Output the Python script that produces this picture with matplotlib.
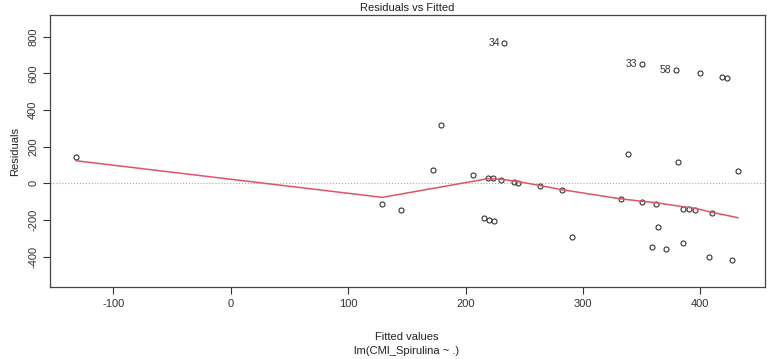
import matplotlib.pyplot as plt

plt.rcParams['font.family'] = ['Liberation Sans', 'DejaVu Sans']
plt.rcParams['axes.unicode_minus'] = False

# fitted values / residuals
fitted = [-132, 232.5, 350, 379, 400, 418, 422.5, 179, 338, 381, 432, 172,
          206, 219, 223.5, 230, 241, 244.5, 263, 282, 332.5, 350, 362, 385,
          390, 395.5, 409.5, 129, 145, 216, 220, 224, 290.5, 363.5, 358.5,
          371, 385.5, 407.5, 426.5]
residuals = [145, 767, 652, 618, 600, 580, 574, 316, 160, 116, 67, 74,
             44, 31, 27, 20, 7, 3, -15, -37, -84, -102, -113, -138,
             -142, -146, -160, -113, -146, -187, -202, -207, -291, -238, -346,
             -358, -326, -404, -420]

# smoother line
smooth_x = [-132, 129, 219, 230, 244, 263, 282, 332, 350, 362, 385, 395, 409.5, 432]
smooth_y = [123, -77, 25, 22, 10, -12, -35, -85, -98, -106, -128, -136, -158, -188]

# labelled points
labels = ['34', '33', '58']
label_x = [232.5, 350, 379]
label_y = [767, 652, 618]

fig = plt.figure(figsize=(7.67, 3.59), dpi=100)
ax = fig.add_axes([50 / 767, 1 - 287 / 359, 715 / 767, 272 / 359])

ax.axhline(0, color='#aaaaaa', lw=0.8, ls=':')
ax.plot(fitted, residuals, 'o', ms=3.6, mfc='none', mec='#333333', mew=0.8)
ax.plot(smooth_x, smooth_y, color='#DF536B', lw=1.1)
for t, x, y in zip(labels, label_x, label_y):
    ax.text(x - 3.5, y, t, ha='right', va='center', fontsize=7.5, color='#333333')

ax.set_xlim(-154, 455)
ax.set_ylim(-566, 918)
ax.set_xticks([-100, 0, 100, 200, 300, 400])
ax.set_yticks([-400, -200, 0, 200, 400, 600, 800])
ax.tick_params(labelsize=8, colors='#333333', length=5, width=0.8)
for lbl in ax.get_yticklabels():
    lbl.set_rotation(90)
    lbl.set_va('center')
for s in ax.spines.values():
    s.set_color('#444444')
    s.set_linewidth(0.9)

ax.set_title('Residuals vs Fitted', fontsize=8, color='#222222', pad=3)
ax.set_ylabel('Residuals', fontsize=8, color='#222222', labelpad=6)
fig.text(407 / 767, 1 - 337 / 359, 'Fitted values', ha='center', va='center',
         fontsize=8, color='#222222')
fig.text(407 / 767, 1 - 351 / 359, 'lm(CMI_Spirulina ~ .)', ha='center', va='center',
         fontsize=8, color='#222222')

fig.savefig('out.png', dpi=100)
